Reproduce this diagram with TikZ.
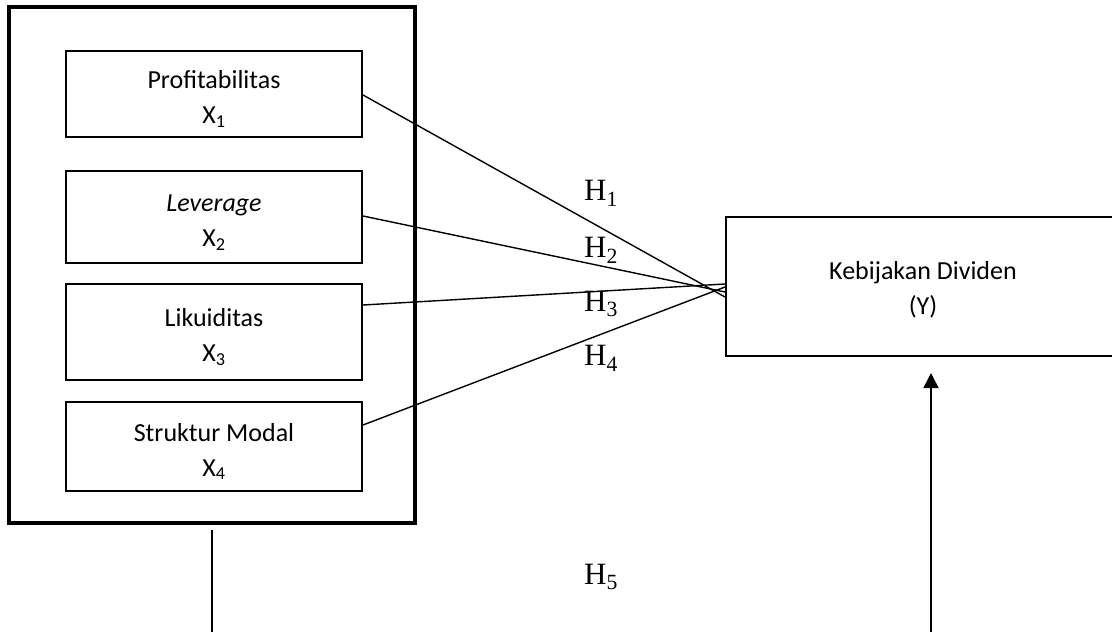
\documentclass[tikz,border=0pt]{standalone}
\usepackage{fontspec}
\setmainfont{Carlito}
\newfontfamily\hfont{Liberation Serif}
\usetikzlibrary{arrows.meta}
\newcommand{\topstrut}[1]{\rule{0pt}{#1}}
\tikzset{
  varbox/.style={draw, line width=2pt, minimum width=296pt, align=center, inner sep=0pt, font=\fontsize{26}{35}\selectfont},
  outerbox/.style={draw, line width=4.5pt, minimum width=406pt, minimum height=516pt, inner sep=0pt},
  link/.style={line width=1.4pt},
  hlab/.style={font=\hfont\fontsize{31}{31}\selectfont, inner sep=0pt},
}
\begin{document}
\begin{tikzpicture}[x=1pt,y=-1pt]
\useasboundingbox (0,0) rectangle (1112,632);
\node[outerbox] (outer) at (212,265) {};
\node[varbox, minimum height=86pt] (prof) at (214,94) {\topstrut{28pt}Profitabilitas\\X\textsubscript{1}};
\node[varbox, minimum height=92pt] (lev) at (214,217) {\topstrut{28pt}\textit{Leverage}\\X\textsubscript{2}};
\node[varbox, minimum height=96pt] (lik) at (214,332) {\topstrut{28pt}Likuiditas\\X\textsubscript{3}};
\node[varbox, minimum height=89pt] (sm) at (214,446.5) {\topstrut{28pt}Struktur Modal\\X\textsubscript{4}};
\node[varbox, minimum width=394pt, minimum height=139pt] (kd) at (923,286.5) {\topstrut{24pt}Kebijakan Dividen\\(Y)};
\draw[link] ([yshift=-1pt]prof.east) -- ([yshift=-10.5pt]kd.west);
\draw[link] ([yshift=1pt]lev.east) -- ([yshift=-5.5pt]kd.west);
\draw[link] ([yshift=27pt]lik.east) -- ([yshift=2.5pt]kd.west);
\draw[link] ([yshift=21.5pt]sm.east) -- ([yshift=-0.5pt]kd.west);
\node[hlab] (h1) at (601,193) {H\textsubscript{1}};
\node[hlab] (h2) at (601,250) {H\textsubscript{2}};
\node[hlab] (h3) at (601,304) {H\textsubscript{3}};
\node[hlab] (h4) at (601,358) {H\textsubscript{4}};
\node[hlab] (h5) at (601,577) {H\textsubscript{5}};
\coordinate (bl) at (212,632);
\coordinate (br) at (931,632);
\draw[line width=2pt] ([yshift=-5pt]outer.south) -- (bl);
\draw[line width=1.5pt, -{Triangle[width=15pt,length=15pt]}] (br) -- ([xshift=8pt,yshift=-16pt]kd.south);
\end{tikzpicture}
\end{document}
